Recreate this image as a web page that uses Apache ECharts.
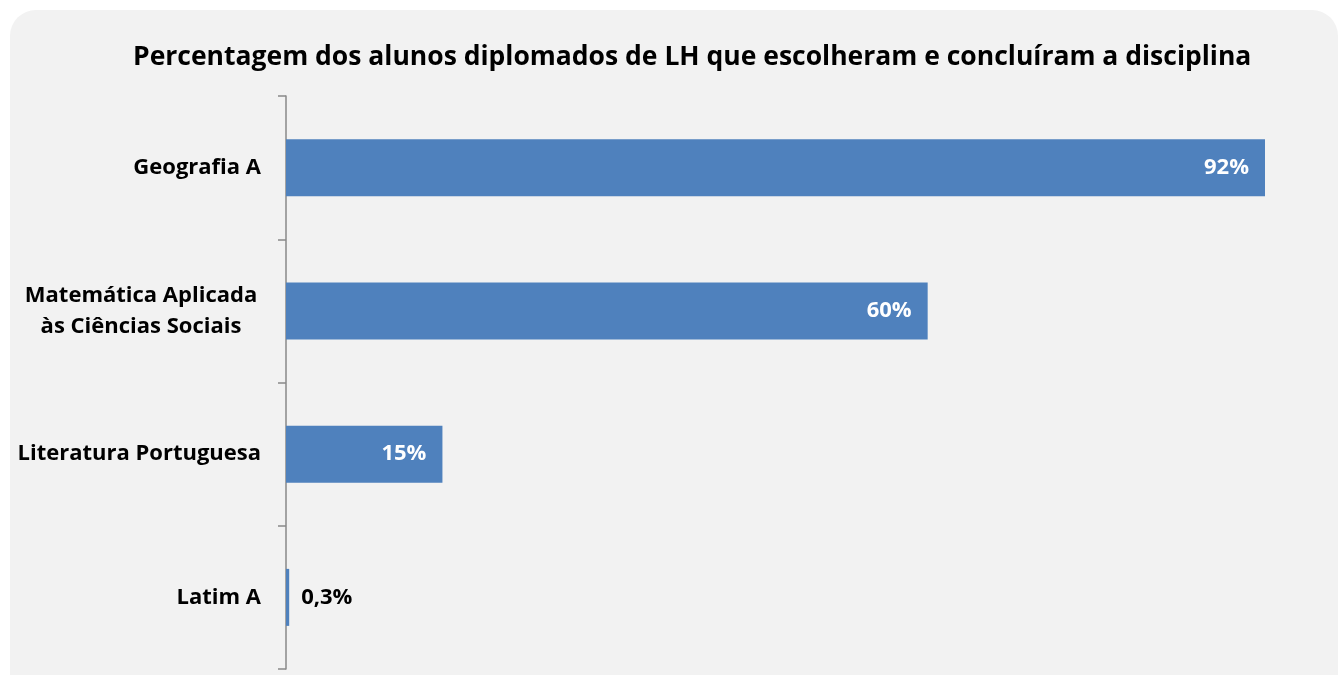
<!DOCTYPE html>
<html>
<head>
<meta charset="utf-8">
<script src="https://cdn.jsdelivr.net/npm/echarts@6/dist/echarts.min.js"></script>
<style>
html,body{margin:0;padding:0;background:#ffffff;}
#chart{width:1344px;height:675px;}
</style>
</head>
<body>
<div id="chart"></div>
<script>
var categories = ['Geografia A', 'Matemática Aplicada\nàs Ciências Sociais', 'Literatura Portuguesa', 'Latim A'];
var values = [92, 60.3, 14.7, 0.3];
var valueLabels = ['92%', '60%', '15%', '0,3%'];
var titleText = 'Percentagem dos alunos diplomados de LH que escolheram e concluíram a disciplina';
var headerText = 'GRÁFICO 4.3.2';

var FONT = 'Open Sans';
var chart = echarts.init(document.getElementById('chart'));

var barData = values.map(function (v, i) {
  var item = { value: v };
  if (i === values.length - 1) {
    item.label = { position: 'right', distance: 12, color: '#000000' };
  }
  return item;
});

chart.setOption({
  backgroundColor: '#ffffff',
  animation: false,
  graphic: [
    {
      type: 'rect', z: -10, silent: true,
      shape: { x: 10, y: 10, width: 1328, height: 700, r: 26 },
      style: { fill: '#f2f2f2' }
    },
    {
      type: 'text', z: 5, x: 0, y: 4.5, silent: true,
      style: { text: headerText, font: 'bold 21px "Open Sans"', fill: '#000', textVerticalAlign: 'bottom', verticalAlign: 'bottom' }
    }
  ],
  title: {
    text: titleText,
    left: 128,
    top: 39,
    textStyle: { fontFamily: FONT, fontWeight: 'bold', fontSize: 26.5, color: '#000000' }
  },
  grid: { left: 286, right: 79, top: 96, bottom: 6, containLabel: false },
  xAxis: {
    type: 'value', min: 0, max: 92, show: false
  },
  yAxis: {
    type: 'category',
    inverse: true,
    data: categories,
    axisLine: { show: true, lineStyle: { color: '#898989', width: 1.5 } },
    axisTick: { show: true, length: 8, lineStyle: { color: '#898989', width: 1.5 } },
    axisLabel: {
      margin: 25,
      fontFamily: FONT, fontWeight: 'bold', fontSize: 22, color: '#000000',
      lineHeight: 31,
      formatter: function (v) {
        if (v.indexOf('\n') >= 0) {
          return v.split('\n').map(function (l) { return '{c|' + l + '}'; }).join('\n');
        }
        return v;
      },
      rich: {
        c: { width: 240, align: 'center', fontFamily: FONT, fontWeight: 'bold', fontSize: 22, color: '#000', lineHeight: 31 }
      }
    }
  },
  series: [{
    type: 'bar',
    data: barData,
    barWidth: 57,
    itemStyle: { color: '#4f81bd' },
    label: {
      show: true,
      position: 'insideRight',
      distance: 16,
      fontFamily: FONT, fontWeight: 'bold', fontSize: 22, color: '#ffffff',
      formatter: function (p) { return valueLabels[p.dataIndex]; }
    }
  }]
});
</script>
</body>
</html>
